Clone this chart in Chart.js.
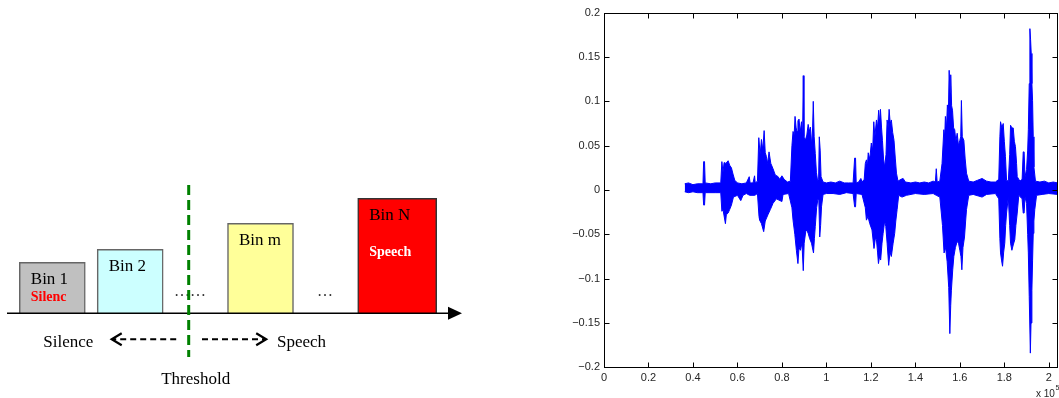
<!DOCTYPE html>
<html>
<head>
<meta charset="utf-8">
<script src="https://cdn.jsdelivr.net/npm/chart.js@4.4.0/dist/chart.umd.min.js"></script>
<style>
  body { margin: 0; background: #fff; width: 1059px; height: 398px; overflow: hidden; position: relative; }
  #binBox { position: absolute; left: 0; top: 0; width: 470px; height: 398px; }
  #waveBox { position: absolute; left: 560px; top: 0; width: 499px; height: 398px; }
</style>
</head>
<body>
<div id="binBox"><canvas id="binChart" width="470" height="398"></canvas></div>
<div id="waveBox"><canvas id="waveChart" width="499" height="398"></canvas></div>
<script>
// Datos del diagrama de bins
var binLabels = ['Bin 1', 'Bin 2', 'Bin m', 'Bin N'];
var binTags = ['Silenc', '', '', 'Speech'];
var binCenters = [52.3, 130.2, 260.5, 397.2];
var binLevels = [51, 64, 90, 115];
var gapLabels = ['\u2026\u2026', '\u2026'];
var gapCenters = [190, 325];
var thresholdAt = 188.7;
var sideLabels = ['Silence', 'Speech'];
var thresholdLabel = 'Threshold';

// Envolvente de la señal (eje x en unidades de 10^5 muestras)
var upperX = [0.363, 0.38, 0.40, 0.42, 0.445, 0.448, 0.452, 0.455, 0.48, 0.50, 0.525, 0.530, 0.535, 0.540, 0.548, 0.558, 0.565, 0.573, 0.580, 0.588,
  0.60, 0.62, 0.640, 0.653, 0.657, 0.670, 0.677, 0.680, 0.690, 0.696, 0.702, 0.708, 0.714, 0.720, 0.725, 0.730, 0.736, 0.742, 0.750, 0.760,
  0.770, 0.783, 0.790, 0.800, 0.810, 0.825, 0.838, 0.845, 0.850, 0.855, 0.859, 0.864, 0.868, 0.872, 0.877, 0.882, 0.888, 0.893, 0.896, 0.899,
  0.905, 0.912, 0.918, 0.923, 0.928, 0.934, 0.938, 0.941, 0.945, 0.950, 0.955, 0.960, 0.965, 0.968, 0.972, 0.976, 0.985, 1.00, 1.02, 1.04,
  1.06, 1.08, 1.10, 1.12, 1.127, 1.131, 1.134, 1.145, 1.155, 1.160, 1.170, 1.175, 1.180, 1.184, 1.188, 1.195, 1.202, 1.208, 1.213, 1.218,
  1.225, 1.230, 1.235, 1.240, 1.243, 1.248, 1.252, 1.257, 1.262, 1.268, 1.273, 1.278, 1.282, 1.287, 1.292, 1.298, 1.304, 1.310, 1.315, 1.322,
  1.335, 1.345, 1.355, 1.38, 1.40, 1.42, 1.44, 1.46, 1.48, 1.490, 1.494, 1.498, 1.510, 1.520, 1.528, 1.532, 1.535, 1.540, 1.544, 1.548,
  1.552, 1.556, 1.559, 1.563, 1.567, 1.572, 1.577, 1.582, 1.588, 1.594, 1.600, 1.604, 1.607, 1.611, 1.618, 1.624, 1.630, 1.640, 1.66, 1.68,
  1.70, 1.72, 1.74, 1.76, 1.775, 1.780, 1.783, 1.789, 1.795, 1.800, 1.805, 1.810, 1.818, 1.824, 1.828, 1.834, 1.840, 1.845, 1.850, 1.855,
  1.858, 1.870, 1.880, 1.885, 1.889, 1.893, 1.900, 1.905, 1.908, 1.912, 1.915, 1.918, 1.921, 1.924, 1.927, 1.930, 1.933, 1.940, 1.96, 1.98,
  2.00, 2.02, 2.04];
var upperY = [0.007, 0.008, 0.006, 0.007, 0.007, 0.032, 0.032, 0.008, 0.007, 0.008, 0.008, 0.032, 0.020, 0.031, 0.030, 0.033, 0.028, 0.025, 0.018, 0.011,
  0.008, 0.007, 0.008, 0.015, 0.008, 0.008, 0.016, 0.008, 0.010, 0.059, 0.040, 0.057, 0.045, 0.067, 0.042, 0.038, 0.030, 0.043, 0.030, 0.024,
  0.017, 0.015, 0.012, 0.016, 0.012, 0.009, 0.010, 0.050, 0.066, 0.062, 0.083, 0.070, 0.066, 0.078, 0.080, 0.065, 0.077, 0.060, 0.129, 0.060,
  0.056, 0.062, 0.074, 0.066, 0.071, 0.050, 0.070, 0.100, 0.060, 0.041, 0.020, 0.011, 0.012, 0.060, 0.045, 0.015, 0.009, 0.008, 0.009, 0.008,
  0.010, 0.008, 0.008, 0.008, 0.036, 0.036, 0.008, 0.009, 0.013, 0.009, 0.012, 0.030, 0.034, 0.025, 0.042, 0.035, 0.053, 0.045, 0.077, 0.060,
  0.079, 0.070, 0.090, 0.075, 0.091, 0.070, 0.056, 0.035, 0.026, 0.040, 0.079, 0.070, 0.091, 0.075, 0.079, 0.065, 0.056, 0.035, 0.019, 0.010,
  0.012, 0.013, 0.009, 0.008, 0.009, 0.008, 0.009, 0.008, 0.010, 0.009, 0.024, 0.009, 0.010, 0.030, 0.068, 0.060, 0.083, 0.070, 0.096, 0.080,
  0.135, 0.110, 0.130, 0.095, 0.090, 0.070, 0.068, 0.055, 0.064, 0.050, 0.056, 0.060, 0.101, 0.060, 0.056, 0.035, 0.019, 0.010, 0.009, 0.011,
  0.013, 0.010, 0.009, 0.009, 0.012, 0.060, 0.077, 0.070, 0.075, 0.055, 0.038, 0.011, 0.010, 0.040, 0.073, 0.070, 0.070, 0.055, 0.049, 0.030,
  0.015, 0.010, 0.012, 0.043, 0.043, 0.015, 0.023, 0.045, 0.068, 0.120, 0.182, 0.170, 0.154, 0.120, 0.101, 0.060, 0.026, 0.010, 0.009, 0.010,
  0.008, 0.009, 0.008];
var lowerX = [0.363, 0.38, 0.40, 0.42, 0.445, 0.448, 0.452, 0.455, 0.50, 0.525, 0.530, 0.535, 0.546, 0.550, 0.558, 0.565, 0.573, 0.582, 0.60, 0.615,
  0.625, 0.640, 0.655, 0.678, 0.69, 0.697, 0.700, 0.708, 0.718, 0.725, 0.737, 0.748, 0.760, 0.775, 0.800, 0.805, 0.83, 0.845, 0.850, 0.858,
  0.865, 0.872, 0.877, 0.883, 0.890, 0.896, 0.900, 0.907, 0.912, 0.918, 0.925, 0.933, 0.942, 0.946, 0.950, 0.956, 0.962, 0.966, 0.970, 0.974,
  0.978, 0.985, 1.00, 1.03, 1.06, 1.09, 1.12, 1.127, 1.131, 1.134, 1.16, 1.175, 1.180, 1.187, 1.195, 1.205, 1.214, 1.220, 1.225, 1.230,
  1.234, 1.239, 1.244, 1.250, 1.255, 1.262, 1.267, 1.273, 1.280, 1.286, 1.292, 1.300, 1.307, 1.312, 1.318, 1.325, 1.34, 1.36, 1.40, 1.44,
  1.48, 1.494, 1.510, 1.522, 1.529, 1.536, 1.543, 1.550, 1.555, 1.559, 1.562, 1.568, 1.573, 1.580, 1.588, 1.594, 1.600, 1.605, 1.609, 1.614,
  1.621, 1.626, 1.630, 1.640, 1.66, 1.70, 1.72, 1.76, 1.775, 1.780, 1.783, 1.788, 1.792, 1.797, 1.802, 1.806, 1.810, 1.818, 1.824, 1.828,
  1.834, 1.840, 1.847, 1.852, 1.858, 1.865, 1.880, 1.885, 1.889, 1.893, 1.900, 1.905, 1.908, 1.912, 1.917, 1.920, 1.924, 1.927, 1.930, 1.933,
  1.937, 1.945, 1.97, 2.00, 2.04];
var lowerY = [-0.002, -0.003, -0.002, -0.003, -0.003, -0.017, -0.017, -0.003, -0.003, -0.003, -0.024, -0.022, -0.038, -0.028, -0.026, -0.022, -0.017, -0.008, -0.006, -0.012,
  -0.006, -0.004, -0.006, -0.006, -0.004, -0.030, -0.034, -0.038, -0.047, -0.035, -0.028, -0.022, -0.015, -0.010, -0.013, -0.005, -0.004, -0.020, -0.034, -0.050,
  -0.068, -0.083, -0.065, -0.068, -0.060, -0.091, -0.060, -0.047, -0.045, -0.049, -0.055, -0.060, -0.071, -0.055, -0.041, -0.020, -0.010, -0.012, -0.053, -0.040,
  -0.019, -0.005, -0.004, -0.004, -0.005, -0.003, -0.004, -0.019, -0.019, -0.004, -0.005, -0.020, -0.034, -0.030, -0.038, -0.045, -0.066, -0.055, -0.056, -0.070,
  -0.083, -0.075, -0.079, -0.060, -0.049, -0.035, -0.041, -0.060, -0.085, -0.070, -0.075, -0.060, -0.049, -0.035, -0.022, -0.006, -0.008, -0.006, -0.004, -0.005,
  -0.004, -0.006, -0.008, -0.040, -0.071, -0.065, -0.081, -0.110, -0.162, -0.130, -0.113, -0.090, -0.075, -0.065, -0.058, -0.060, -0.068, -0.075, -0.090, -0.065,
  -0.053, -0.035, -0.022, -0.006, -0.005, -0.008, -0.005, -0.004, -0.010, -0.055, -0.071, -0.080, -0.086, -0.070, -0.060, -0.040, -0.026, -0.008, -0.040, -0.060,
  -0.068, -0.062, -0.056, -0.040, -0.026, -0.006, -0.010, -0.026, -0.026, -0.008, -0.015, -0.050, -0.071, -0.120, -0.184, -0.150, -0.113, -0.080, -0.049, -0.035,
  -0.022, -0.006, -0.005, -0.004, -0.005];
var xTickValues = [0, 0.2, 0.4, 0.6, 0.8, 1, 1.2, 1.4, 1.6, 1.8, 2];
var yTickValues = [-0.2, -0.15, -0.1, -0.05, 0, 0.05, 0.1, 0.15, 0.2];

// Estilos de los bins
var binColors = ['#c0c0c0', '#ccffff', '#ffff99', '#ff0000'];
var binWidths = [66, 66, 66, 79];
var tagColors = ['#ff0000', '', '', '#ffffff'];
var tagOffsets = [39, 0, 0, 58];
var serif = '"Liberation Serif", "Times New Roman", serif';

// Dibujo de textos, eje, umbral y flechas del diagrama
var binDecor = {
    id: 'binDecor',
    afterDatasetsDraw: function (chart) {
        var ctx = chart.ctx;
        var xs = chart.scales.x, ys = chart.scales.y;
        var y0 = ys.getPixelForValue(0);
        ctx.save();

        // eje horizontal con flecha
        ctx.strokeStyle = '#000';
        ctx.fillStyle = '#000';
        ctx.lineWidth = 1.6;
        ctx.beginPath();
        ctx.moveTo(7, y0);
        ctx.lineTo(450, y0);
        ctx.stroke();
        ctx.beginPath();
        ctx.moveTo(462, y0);
        ctx.lineTo(448, y0 - 6.5);
        ctx.lineTo(448, y0 + 6.5);
        ctx.closePath();
        ctx.fill();

        // textos dentro de los bins
        ctx.textBaseline = 'alphabetic';
        ctx.textAlign = 'left';
        binLabels.forEach(function (lbl, i) {
            var bar = chart.getDatasetMeta(i).data[0];
            var left = bar.x - bar.width / 2 + 11.5;
            ctx.font = '17px ' + serif;
            ctx.fillStyle = '#000';
            ctx.fillText(lbl, left, bar.y + 21.5);
            if (binTags[i]) {
                ctx.font = 'bold 14px ' + serif;
                ctx.fillStyle = tagColors[i];
                ctx.fillText(binTags[i], left, bar.y + tagOffsets[i]);
            }
        });

        // puntos suspensivos entre bins
        ctx.font = '16px ' + serif;
        ctx.fillStyle = '#333';
        ctx.textAlign = 'center';
        gapLabels.forEach(function (g, i) {
            ctx.fillText(g, xs.getPixelForValue(gapCenters[i]), 296);
        });

        // linea de umbral
        var tx = xs.getPixelForValue(thresholdAt);
        ctx.strokeStyle = '#008000';
        ctx.lineWidth = 3;
        ctx.setLineDash([10, 5]);
        ctx.beginPath();
        ctx.moveTo(tx, 185);
        ctx.lineTo(tx, 357);
        ctx.stroke();

        // flechas discontinuas
        var ay = 339.3;
        ctx.strokeStyle = '#000';
        ctx.lineWidth = 2;
        ctx.setLineDash([6, 4]);
        ctx.beginPath();
        ctx.moveTo(tx - 12.5, ay);
        ctx.lineTo(tx - 76, ay);
        ctx.moveTo(tx + 13.3, ay);
        ctx.lineTo(tx + 76, ay);
        ctx.stroke();
        ctx.setLineDash([]);
        ctx.lineWidth = 2.2;
        ctx.beginPath();
        ctx.moveTo(tx - 67, ay - 6);
        ctx.lineTo(tx - 77, ay);
        ctx.lineTo(tx - 67, ay + 6);
        ctx.moveTo(tx + 67.5, ay - 6);
        ctx.lineTo(tx + 77.5, ay);
        ctx.lineTo(tx + 67.5, ay + 6);
        ctx.stroke();

        ctx.font = '17px ' + serif;
        ctx.fillStyle = '#000';
        ctx.textAlign = 'right';
        ctx.fillText(sideLabels[0], tx - 95.4, 346.7);
        ctx.textAlign = 'left';
        ctx.fillText(sideLabels[1], tx + 88.3, 346.7);
        ctx.textAlign = 'center';
        ctx.fillText(thresholdLabel, tx + 7, 384);
        ctx.restore();
    }
};

var binChart = new Chart(document.getElementById('binChart').getContext('2d'), {
    type: 'bar',
    data: {
        datasets: binLabels.map(function (lbl, i) {
            return {
                label: lbl,
                data: [{ x: binCenters[i], y: binLevels[i] }],
                backgroundColor: binColors[i],
                borderColor: i === 3 ? '#333333' : '#666666',
                borderWidth: 1.5,
                barThickness: binWidths[i],
                grouped: false
            };
        })
    },
    options: {
        responsive: false,
        animation: false,
        layout: { padding: 0 },
        plugins: { legend: { display: false }, tooltip: { enabled: false } },
        scales: {
            x: { type: 'linear', min: 0, max: 470, offset: false, display: false },
            y: { type: 'linear', min: -84.7, max: 313.3, display: false }
        }
    },
    plugins: [binDecor]
});

// Marco estilo MATLAB con marcas hacia dentro
var waveFrame = {
    id: 'waveFrame',
    afterDraw: function (chart) {
        var ctx = chart.ctx, a = chart.chartArea;
        var xs = chart.scales.x, ys = chart.scales.y;
        var l = Math.round(a.left) + 0.5, r = Math.round(a.right) - 0.5;
        var t = Math.round(a.top) + 0.5, b = Math.round(a.bottom) + 0.5;
        ctx.save();
        ctx.strokeStyle = '#000';
        ctx.lineWidth = 1;
        ctx.strokeRect(l, t, r - l, b - t);
        ctx.beginPath();
        xTickValues.forEach(function (v) {
            var px = Math.round(xs.getPixelForValue(v)) + 0.5;
            ctx.moveTo(px, b); ctx.lineTo(px, b - 5);
            ctx.moveTo(px, t); ctx.lineTo(px, t + 5);
        });
        yTickValues.forEach(function (v) {
            var py = Math.round(ys.getPixelForValue(v)) + 0.5;
            ctx.moveTo(l, py); ctx.lineTo(l + 5, py);
            ctx.moveTo(r, py); ctx.lineTo(r - 5, py);
        });
        ctx.stroke();
        ctx.fillStyle = '#262626';
        ctx.textAlign = 'left';
        ctx.font = '10px "Liberation Sans", Arial, sans-serif';
        ctx.fillText('x 10', 476, 397);
        ctx.font = '7px "Liberation Sans", Arial, sans-serif';
        ctx.fillText('5', 495.5, 390);
        ctx.restore();
    }
};

function toPoints(xs, ys) {
    return xs.map(function (x, i) { return { x: x, y: ys[i] }; });
}

var tickFont = { family: '"Liberation Sans", Arial, sans-serif', size: 11 };

var waveChart = new Chart(document.getElementById('waveChart').getContext('2d'), {
    type: 'line',
    data: {
        datasets: [
            { data: toPoints(upperX, upperY), borderColor: '#0000ff', backgroundColor: '#0000ff', borderWidth: 1, pointRadius: 0, fill: 'origin', tension: 0 },
            { data: toPoints(lowerX, lowerY), borderColor: '#0000ff', backgroundColor: '#0000ff', borderWidth: 1, pointRadius: 0, fill: 'origin', tension: 0 }
        ]
    },
    options: {
        responsive: false,
        animation: false,
        layout: { padding: { top: 12.7, right: 1.3, left: 0, bottom: 0 } },
        plugins: { legend: { display: false }, tooltip: { enabled: false } },
        scales: {
            x: {
                type: 'linear', min: 0, max: 2.04,
                grid: { display: false, drawTicks: false },
                border: { display: false },
                afterBuildTicks: function (s) { s.ticks = xTickValues.map(function (v) { return { value: v }; }); },
                afterFit: function (s) { s.height = 30.7; },
                ticks: {
                    padding: 4, maxRotation: 0, autoSkip: false, color: '#262626', font: tickFont,
                    callback: function (v) { return String(Math.round(v * 10) / 10); }
                }
            },
            y: {
                type: 'linear', min: -0.2, max: 0.2,
                grid: { display: false, drawTicks: false },
                border: { display: false },
                afterBuildTicks: function (s) { s.ticks = yTickValues.map(function (v) { return { value: v }; }); },
                afterFit: function (s) { s.width = 44; },
                ticks: {
                    padding: 4, autoSkip: false, color: '#262626', font: tickFont,
                    callback: function (v) { return String(Math.round(v * 100) / 100).replace('-', '\u2212'); }
                }
            }
        }
    },
    plugins: [waveFrame]
});
</script>
</body>
</html>
